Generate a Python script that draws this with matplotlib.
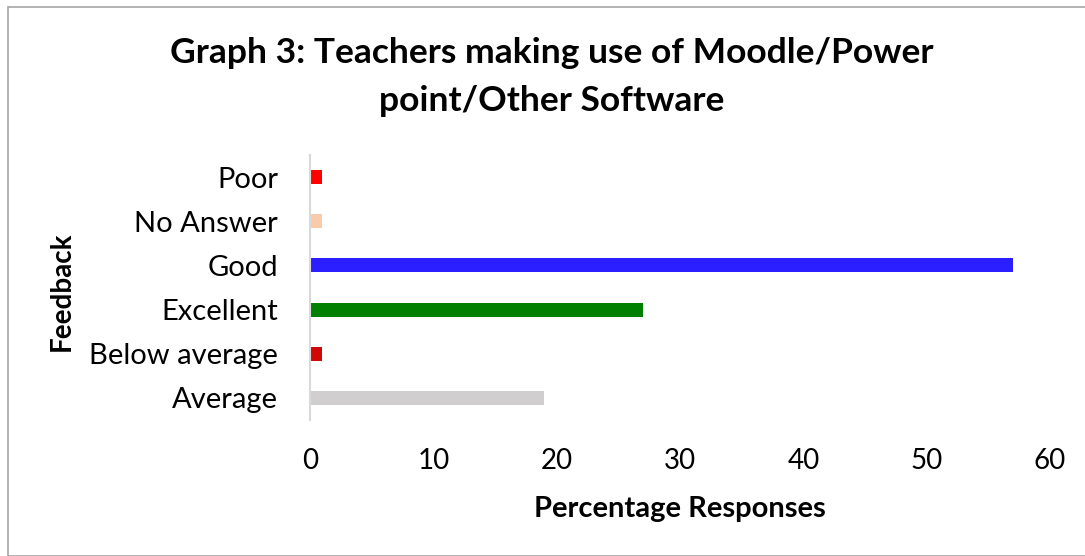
import matplotlib.pyplot as plt
from matplotlib.patches import Rectangle

categories = ["Average", "Below average", "Excellent", "Good", "No Answer", "Poor"]
values = [19, 1, 27, 57, 1, 1]
colors = ["#D0CECE", "#D00808", "#008000", "#2B1FFF", "#F8CBAD", "#FF0000"]

plt.rcParams['font.family'] = ['Lato', 'DejaVu Sans']

fig = plt.figure(figsize=(10.85, 5.56), dpi=100)
ax = fig.add_axes([310/1085, 1-420/556, (1050-310)/1085, 265/556])

ax.barh(categories, values, height=0.32, color=colors)
ax.set_xlim(0, 60)
ax.set_ylim(-0.5, 5.5)
ax.set_xticks([0, 10, 20, 30, 40, 50, 60])
ax.tick_params(axis='both', length=0, colors='black')
ax.tick_params(axis='x', pad=20, labelsize=20)
ax.tick_params(axis='y', pad=23, labelsize=21)
for s in ['top', 'right', 'bottom']:
    ax.spines[s].set_visible(False)
ax.spines['left'].set_color('#D9D9D9')
ax.spines['left'].set_linewidth(1.5)

ax.set_xlabel("Percentage Responses", fontsize=21, fontweight='bold', labelpad=16)
fig.text(62/1085, 1-291/556, "Feedback", rotation=90, fontsize=20, fontweight='bold',
         ha='center', va='center')

fig.text(552/1085, 1-53/556, "Graph 3: Teachers making use of Moodle/Power", fontsize=25.5,
         fontweight='bold', ha='center', va='center')
fig.text(552/1085, 1-101/556, "point/Other Software", fontsize=25.5,
         fontweight='bold', ha='center', va='center')

fig.patches.append(Rectangle((8/1085, 0), 1, 1-7/556, transform=fig.transFigure,
                             fill=False, edgecolor='#A6A6A6', linewidth=1.2))

fig.savefig("out.png", dpi=100)
